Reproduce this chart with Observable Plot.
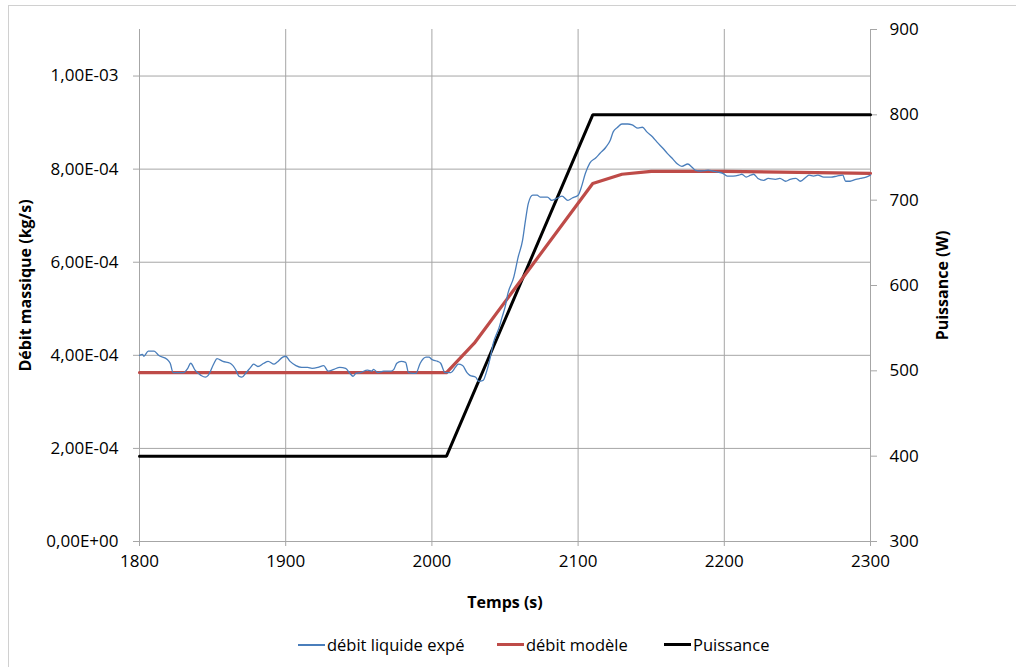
<!DOCTYPE html>
<html>
<head>
<meta charset="utf-8">
<script src="https://cdn.jsdelivr.net/npm/d3@7"></script>
<script src="https://cdn.jsdelivr.net/npm/@observablehq/plot@0.6"></script>
<style>
  html, body { margin: 0; padding: 0; background: #fff; overflow: hidden; }
  #wrap { position: relative; width: 1016px; height: 667px; font-family: "Open Sans", "Noto Sans", sans-serif; }
  #border { position: absolute; left: 8px; top: 5px; width: 1030px; height: 690px; border: 1px solid #d0d0d0; box-sizing: border-box; }
  #chart { position: absolute; left: 0; top: 0; }
  #legend { position: absolute; left: 0; top: 633px; width: 1016px; height: 24px; font-size: 16.5px; color: #000; }
  .item { position: absolute; top: 0; display: flex; align-items: center; white-space: nowrap; }
  .sw { width: 27px; height: 0; margin-right: 2px; }
</style>
</head>
<body>
<div id="wrap">
  <div id="border"></div>
  <div id="chart"></div>
  <div id="legend"></div>
</div>
<script>
// ---- Data ----
const xTicks = [1800, 1900, 2000, 2100, 2200, 2300];
const leftTicks = [0, 2e-4, 4e-4, 6e-4, 8e-4, 1e-3];
const rightTicks = [300, 400, 500, 600, 700, 800, 900];

const seriesNames = ["débit liquide expé", "débit modèle", "Puissance"];
const seriesColors = ["#4a7ebb", "#be4b48", "#000000"];

// experimental flow (kg/s)
const expTime = [1800,1802,1803,1806,1810,1813,1819,1821,1823,1830,1833,1835,1838,1842,1845,1847,1851,1853,1857,1862,1866,1868,1870,1873,1876,1878,1881,1885,1888,1892,1894,1898,1900,1903,1907,1911,
1915,1918,1922,1926,1929,1933,1937,1941,1944,1946,1948,1951,1956,1959,1960,1963,1967,1972,1974,1976,1979,1982,1984,1989,1992,1996,1998,2000,2004,2006,2009,2013,2016,2018,2021,2024,2026,
2030,2032,2035,2037,2040,2042,2046,2048,2050,2052,2056,2059,2062,2064,2066,2069,2072,2074,2079,2082,2086,2089,2093,2096,2100,2102,2105,
2108,2112,2115,2119,2122,2124,2127,2130,2134,2137,2141,2144,2147,2151,2154,2158,2161,2165,2168,2171,2175,2178,2180,2184,2189,2192,2195,2199,2202,
2206,2210,2212,2215,2218,2220,2223,2227,2230,2235,2238,2242,2245,2249,2252,2256,2258,2261,2264,2268,2273,2277,2281,2283,2286,2290,2293,2297,2300];
const expFlow = [4.00e-4,4.02e-4,3.98e-4,4.09e-4,4.09e-4,4.00e-4,3.91e-4,3.83e-4,3.63e-4,3.63e-4,3.72e-4,3.83e-4,3.68e-4,3.57e-4,3.53e-4,3.57e-4,3.83e-4,3.93e-4,3.87e-4,3.83e-4,3.68e-4,3.55e-4,3.53e-4,3.63e-4,3.74e-4,3.81e-4,3.76e-4,3.83e-4,3.87e-4,3.81e-4,3.85e-4,3.96e-4,3.98e-4,3.87e-4,3.78e-4,3.74e-4,
3.74e-4,3.72e-4,3.74e-4,3.78e-4,3.66e-4,3.70e-4,3.74e-4,3.72e-4,3.61e-4,3.55e-4,3.61e-4,3.63e-4,3.68e-4,3.66e-4,3.70e-4,3.63e-4,3.66e-4,3.66e-4,3.70e-4,3.83e-4,3.87e-4,3.85e-4,3.63e-4,3.61e-4,3.83e-4,3.96e-4,3.96e-4,3.91e-4,3.87e-4,3.83e-4,3.63e-4,3.63e-4,3.74e-4,3.81e-4,3.78e-4,3.63e-4,3.57e-4,
3.53e-4,3.44e-4,3.46e-4,3.61e-4,3.96e-4,4.26e-4,4.60e-4,4.82e-4,5.03e-4,5.33e-4,5.68e-4,6.11e-4,6.47e-4,6.90e-4,7.27e-4,7.44e-4,7.44e-4,7.40e-4,7.40e-4,7.33e-4,7.38e-4,7.42e-4,7.33e-4,7.38e-4,7.44e-4,7.59e-4,7.91e-4,
8.13e-4,8.24e-4,8.34e-4,8.47e-4,8.62e-4,8.80e-4,8.90e-4,8.97e-4,8.97e-4,8.95e-4,8.88e-4,8.90e-4,8.80e-4,8.69e-4,8.58e-4,8.45e-4,8.34e-4,8.21e-4,8.11e-4,8.06e-4,8.11e-4,8.04e-4,7.98e-4,7.96e-4,7.98e-4,7.96e-4,7.94e-4,7.91e-4,7.85e-4,
7.85e-4,7.87e-4,7.89e-4,7.83e-4,7.87e-4,7.89e-4,7.80e-4,7.76e-4,7.80e-4,7.78e-4,7.80e-4,7.74e-4,7.78e-4,7.80e-4,7.74e-4,7.83e-4,7.87e-4,7.85e-4,7.87e-4,7.83e-4,7.83e-4,7.85e-4,7.87e-4,7.74e-4,7.74e-4,7.78e-4,7.80e-4,7.83e-4,7.87e-4];

// model flow (kg/s)
const modelTime = [1800, 2010, 2029, 2110, 2130, 2150, 2200, 2300];
const modelFlow = [3.63e-4, 3.63e-4, 4.26e-4, 7.69e-4, 7.89e-4, 7.95e-4, 7.95e-4, 7.91e-4];

// power (W)
const powerTime = [1800, 2010, 2110, 2300];
const powerW = [400, 400, 800, 800];

// ---- Scales bridging ----
const leftMax = 1.1e-3;
const rightMin = 300, rightMax = 900;
const toLeft = p => (p - rightMin) / (rightMax - rightMin) * leftMax;
const fromLeft = v => Math.round(rightMin + v / leftMax * (rightMax - rightMin));

function sci(d) {
  if (d === 0) return "0,00E+00";
  const e = Math.floor(Math.log10(Math.abs(d)) + 1e-9);
  const m = d / Math.pow(10, e);
  const sign = e < 0 ? "-" : "+";
  const ea = String(Math.abs(e)).padStart(2, "0");
  return m.toFixed(2).replace(".", ",") + "E" + sign + ea;
}

const expData = expTime.map((t, i) => ({t, v: expFlow[i]}));
const modelData = modelTime.map((t, i) => ({t, v: modelFlow[i]}));
const powerData = powerTime.map((t, i) => ({t, v: toLeft(powerW[i])}));

const grid = "#a6a6a6";
const font = "'Open Sans', 'Noto Sans', sans-serif";
const tickFont = 17;

const chart = Plot.plot({
  width: 1016,
  height: 625,
  marginLeft: 139,
  marginRight: 146,
  marginTop: 29,
  marginBottom: 84,
  style: { fontFamily: font, fontSize: tickFont + "px", color: "#000", background: "transparent" },
  x: { domain: [1800, 2300], type: "linear" },
  y: { domain: [0, leftMax] },
  marks: [
    Plot.gridX(xTicks, { stroke: grid, strokeOpacity: 1 }),
    Plot.gridY(leftTicks, { stroke: grid, strokeOpacity: 1 }),
    Plot.ruleX([2300], { stroke: grid, strokeOpacity: 1 }),
    Plot.axisX(xTicks, { tickSize: 5, stroke: grid, tickPadding: 8, tickFormat: d => String(d), label: null, fill: "#000", fontSize: tickFont }),
    Plot.axisY(leftTicks, { anchor: "left", tickSize: 6, stroke: grid, tickPadding: 15, tickFormat: sci, label: null, fill: "#000", fontSize: tickFont }),
    Plot.axisY(rightTicks.map(toLeft), { anchor: "right", tickSize: 6, stroke: grid, tickPadding: 13, tickFormat: fromLeft, label: null, fill: "#000", fontSize: tickFont }),
    Plot.line(powerData, { x: "t", y: "v", stroke: seriesColors[2], strokeWidth: 3, strokeLinejoin: "miter" }),
    Plot.line(modelData, { x: "t", y: "v", stroke: seriesColors[1], strokeWidth: 3.2 }),
    Plot.line(expData, { x: "t", y: "v", stroke: seriesColors[0], strokeWidth: 1.3, curve: "monotone-x" }),
    Plot.text(["Débit massique (kg/s)"], { frameAnchor: "left", textAnchor: "middle", dx: -114, rotate: -90, fontWeight: "bold", fontSize: 16, fill: "#000" }),
    Plot.text(["Puissance (W)"], { frameAnchor: "right", textAnchor: "middle", dx: 72, rotate: -90, fontWeight: "bold", fontSize: 16, fill: "#000" }),
    Plot.text(["Temps (s)"], { frameAnchor: "bottom", textAnchor: "middle", dy: 66, fontWeight: "bold", fontSize: 16, fill: "#000" })
  ]
});
document.getElementById("chart").appendChild(chart);

const legend = document.getElementById("legend");
const legendLeft = [298, 497, 664];
seriesNames.forEach((name, i) => {
  const it = document.createElement("div");
  it.className = "item";
  it.style.left = legendLeft[i] + "px";
  const sw = document.createElement("span");
  sw.className = "sw";
  sw.style.borderTop = (i === 0 ? 2 : 3) + "px solid " + seriesColors[i];
  const tx = document.createElement("span");
  tx.textContent = name;
  it.appendChild(sw); it.appendChild(tx);
  legend.appendChild(it);
});
</script>
</body>
</html>
